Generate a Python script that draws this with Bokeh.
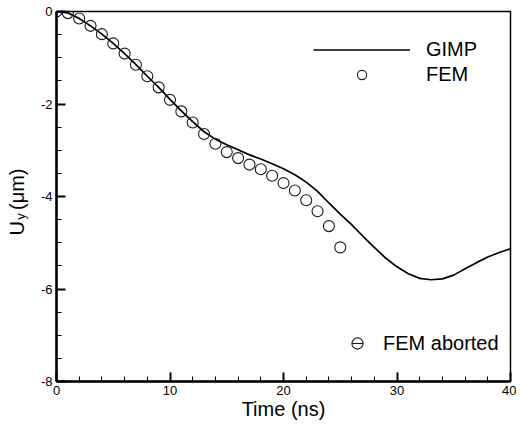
from bokeh.plotting import figure
from bokeh.models import (Range1d, Legend, LegendItem, SingleIntervalTicker,
                          LinearAxis, FixedTicker, PrintfTickFormatter)
from bokeh.embed import file_html
from bokeh.resources import INLINE

# ---- data ----
time_gimp = list(range(0, 41))
uy_gimp = [0.0, -0.03, -0.15, -0.31, -0.49, -0.69, -0.91, -1.15, -1.40, -1.64,
           -1.90, -2.15, -2.38, -2.60, -2.76, -2.88, -2.99, -3.10, -3.19, -3.29,
           -3.40, -3.53, -3.69, -3.89, -4.14, -4.38, -4.61, -4.86, -5.10, -5.33,
           -5.52, -5.67, -5.77, -5.80, -5.78, -5.70, -5.56, -5.43, -5.31, -5.21,
           -5.13]
time_fem = list(range(0, 26))
uy_fem = [0.0, -0.035, -0.15, -0.31, -0.49, -0.69, -0.91, -1.15, -1.40, -1.64,
          -1.91, -2.16, -2.40, -2.65, -2.86, -3.04, -3.17, -3.31, -3.41, -3.55,
          -3.71, -3.87, -4.08, -4.32, -4.64, -5.10]
series_labels = ["GIMP", "FEM", "FEM aborted"]
x_title = "Time (ns)"
y_title_main = "U"
y_title_sub = "y"
y_title_unit = "(\u03bcm)"

FONT = "Liberation Sans"
NB = "\u00a0"

p = figure(width=516, height=422, output_backend="svg", toolbar_location=None,
           x_range=Range1d(0, 40), y_range=Range1d(-8, 0),
           min_border_left=56, min_border_right=6, min_border_top=11, min_border_bottom=36)
p.grid.visible = False
p.background_fill_color = "white"
p.border_fill_color = "white"
p.outline_line_color = "black"
p.outline_line_width = 1.5

gimp = p.line(time_gimp, uy_gimp, line_color="black", line_width=1.7)
fem = p.scatter(time_fem, uy_fem, marker="circle", size=11, fill_alpha=0,
                line_color="#1a1a1a", line_width=1.1)

# renderers used only for the "FEM aborted" legend symbol
ab_c = p.scatter([time_fem[-1]], [uy_fem[-1]], marker="circle", fill_alpha=0,
                 line_color="#1a1a1a", line_width=1.1, visible=False)
ab_d = p.scatter([time_fem[-1]], [uy_fem[-1]], marker="dash",
                 line_color="#1a1a1a", line_width=1.1, visible=False)

# axes
p.xaxis.ticker = SingleIntervalTicker(interval=10, num_minor_ticks=5)
p.yaxis.ticker = SingleIntervalTicker(interval=2, num_minor_ticks=4)
for ax in (p.xaxis, p.yaxis):
    ax.formatter = PrintfTickFormatter(format="%d")
    ax.axis_line_width = 2.5
    ax.axis_line_color = "black"
    ax.major_tick_in = 9
    ax.major_tick_out = 0
    ax.minor_tick_in = 5
    ax.minor_tick_out = 0
    ax.major_tick_line_width = 2
    ax.minor_tick_line_width = 1
    ax.major_tick_line_color = "black"
    ax.minor_tick_line_color = "black"
    ax.major_label_text_font = FONT
    ax.major_label_text_font_size = "13px"
    ax.major_label_text_color = "black"
    ax.major_label_standoff = 4

p.xaxis.axis_label = x_title
p.xaxis.axis_label_text_font = FONT
p.xaxis.axis_label_text_font_size = "20px"
p.xaxis.axis_label_text_font_style = "normal"
p.xaxis.axis_label_text_color = "black"
p.xaxis.axis_label_standoff = 0

# y title: subscript on the inner axis label, main text on an outer blank axis
p.yaxis.axis_label = y_title_sub + NB * 11
p.yaxis.axis_label_text_font = FONT
p.yaxis.axis_label_text_font_size = "13px"
p.yaxis.axis_label_text_font_style = "normal"
p.yaxis.axis_label_text_color = "black"
p.yaxis.axis_label_text_line_height = 1.0
p.yaxis.axis_label_standoff = 10

outer = LinearAxis(ticker=FixedTicker(ticks=[]), axis_line_alpha=0,
                   major_tick_in=0, major_tick_out=0, minor_tick_in=0, minor_tick_out=0,
                   major_label_text_font_size="0px",
                   axis_label=y_title_main + NB * 2 + y_title_unit + NB * 2,
                   axis_label_text_font=FONT, axis_label_text_font_size="20px",
                   axis_label_text_font_style="normal", axis_label_text_color="black",
                   axis_label_standoff=-18)
p.add_layout(outer, "left")

leg_kw = dict(padding=0, margin=0, border_line_alpha=0, background_fill_alpha=0,
              label_text_font=FONT, label_text_font_size="20px",
              label_text_color="black", click_policy="none")
leg1 = Legend(items=[LegendItem(label=series_labels[0], renderers=[gimp]),
                     LegendItem(label=series_labels[1], renderers=[fem])],
              location=(257, 295), glyph_width=97, glyph_height=23,
              label_height=23, spacing=2, label_standoff=16, **leg_kw)
leg2 = Legend(items=[LegendItem(label=series_labels[2], renderers=[ab_c, ab_d])],
              location=(287, 24), glyph_width=28, glyph_height=28,
              label_height=28, spacing=0, label_standoff=12, **leg_kw)
p.add_layout(leg1)
p.add_layout(leg2)

open("out.html", "w").write(file_html(p, INLINE))
